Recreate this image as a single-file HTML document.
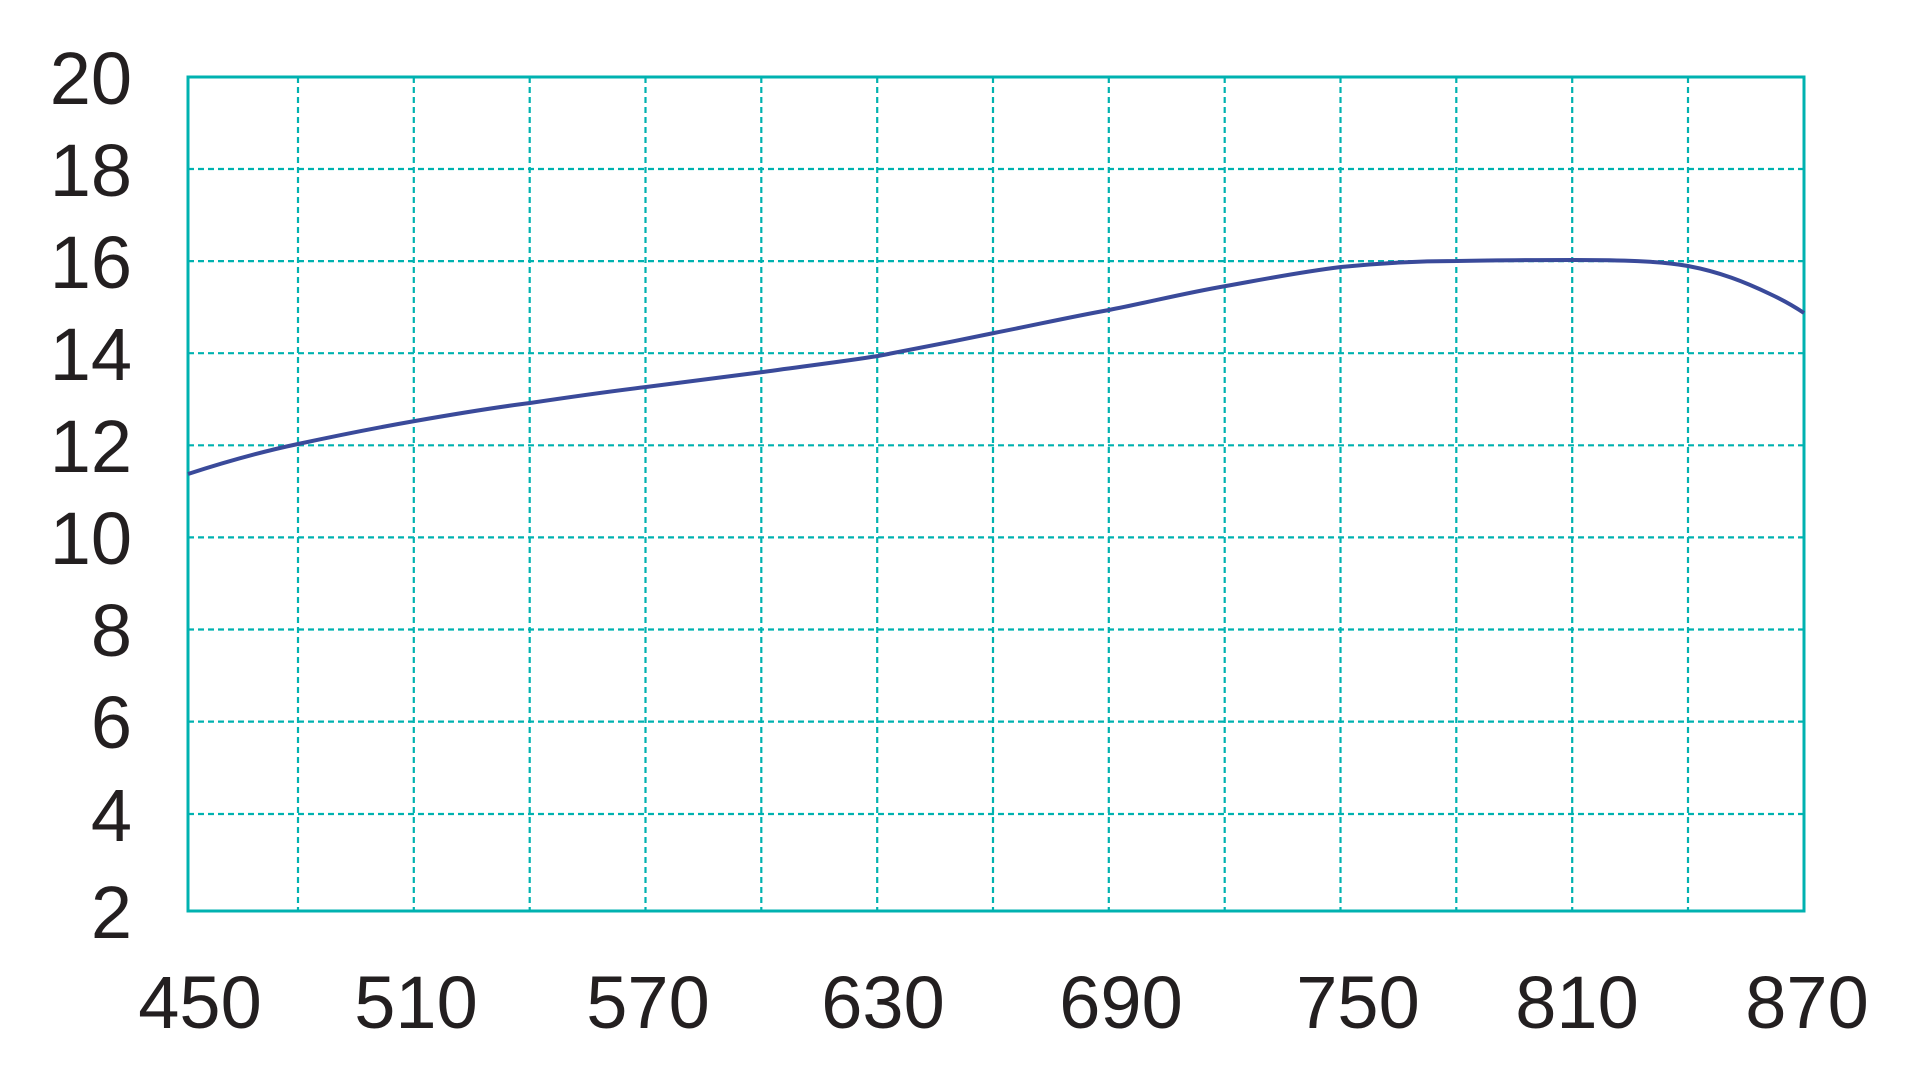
<!DOCTYPE html>
<html><head><style>html,body{margin:0;padding:0;background:#fff;width:1920px;height:1080px;overflow:hidden}</style></head>
<body>
<svg width="1920" height="1080" xmlns="http://www.w3.org/2000/svg" font-family="Liberation Sans, Arial, sans-serif" font-size="74" fill="#231f20">
<g stroke="#00b2b0" stroke-width="2.2" stroke-dasharray="6,4" fill="none">
<path d="M298 77V911M413.8 77V911M529.7 77V911M645.5 77V911M761.3 77V911M877.2 77V911M993 77V911M1108.8 77V911M1224.7 77V911M1340.5 77V911M1456.3 77V911M1572.2 77V911M1688 77V911"/>
<path d="M188 169H1804M188 261.1H1804M188 353.2H1804M188 445.3H1804M188 537.4H1804M188 629.5H1804M188 721.6H1804M188 814H1804"/>
</g>
<rect x="188" y="77" width="1616" height="834" fill="none" stroke="#00b2b0" stroke-width="3"/>
<path d="M188 474 C225 462,260 452,298 444 C340 435,375 428,415 421 C455 414,490 408,530 403 C570 397,605 392,646 387 C690 381,725 377,763 372 C805 366,840 362,878 356 C920 348,955 341,994 333 C1035 325,1070 317,1109 310 C1150 302,1185 293,1226 286 C1265 279,1300 272,1341 267 C1380 263,1420 261,1457 261 C1500 260,1540 260,1574 260 C1620 260,1660 261,1688 266 C1720 272,1745 282,1770 294 C1785 301,1795 307,1804 313" fill="none" stroke="#3a4a9a" stroke-width="4"/>
<g text-anchor="end">
<text x="132" y="104">20</text><text x="132" y="196">18</text><text x="132" y="288">16</text><text x="132" y="380">14</text><text x="132" y="472">12</text><text x="132" y="564">10</text><text x="132" y="656">8</text><text x="132" y="748">6</text><text x="132" y="841">4</text><text x="132" y="938">2</text>
</g>
<g text-anchor="middle">
<text x="200" y="1028">450</text><text x="416" y="1028">510</text><text x="648" y="1028">570</text><text x="883" y="1028">630</text><text x="1121" y="1028">690</text><text x="1358" y="1028">750</text><text x="1577" y="1028">810</text><text x="1807" y="1028">870</text>
</g>
</svg>
</body></html>
